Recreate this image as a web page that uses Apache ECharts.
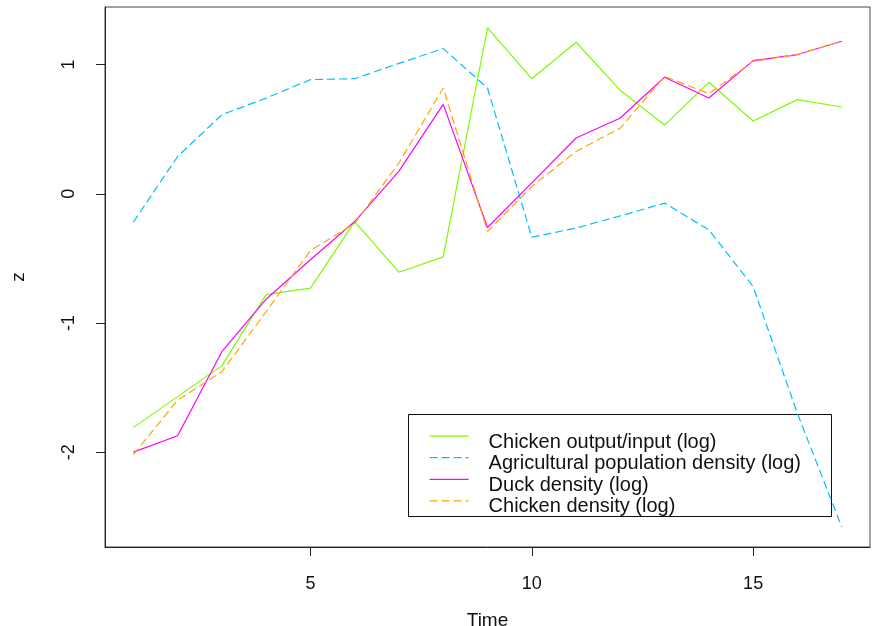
<!DOCTYPE html>
<html>
<head>
<meta charset="utf-8">
<script src="https://cdn.jsdelivr.net/npm/echarts@6/dist/echarts.min.js"></script>
<style>html,body{margin:0;padding:0;background:#fff}#c{width:879px;height:626px}</style>
</head>
<body>
<div id="c"></div>
<script>
const time = [1,2,3,4,5,6,7,8,9,10,11,12,13,14,15,16,17];
const chickenOutputInput = [-1.81,-1.57,-1.33,-0.78,-0.73,-0.215,-0.607,-0.488,1.285,0.891,1.173,0.80,0.532,0.863,0.563,0.729,0.672];
const agriPopDensity = [-0.22,0.289,0.612,0.741,0.884,0.891,1.01,1.124,0.819,-0.336,-0.265,-0.171,-0.072,-0.279,-0.718,-1.70,-2.578];
const duckDensity = [-2.0,-1.873,-1.222,-0.816,-0.51,-0.215,0.175,0.692,-0.261,0.084,0.432,0.587,0.902,0.742,1.031,1.078,1.181];
const chickenDensity = [-2.02,-1.597,-1.377,-0.912,-0.44,-0.23,0.24,0.819,-0.292,0.057,0.328,0.509,0.909,0.775,1.026,1.078,1.181];
const seriesNames = ['Chicken output/input (log)','Agricultural population density (log)','Duck density (log)','Chicken density (log)'];
const xTicks = [5,10,15];
const yTicks = [-2,-1,0,1];

const pair = arr => arr.map((v,i)=>[time[i], v]);
const FONT = '"Liberation Sans", Arial, sans-serif';
const chart = echarts.init(document.getElementById('c'), null, {renderer:'canvas'});
const mk = (name, data, color, dashed) => ({
  name, type:'line', data: pair(data), showSymbol:false, symbol:'none',
  lineStyle:{color, width:1.2, type: dashed ? [8,4] : 'solid'},
  itemStyle:{color}, silent:true
});
chart.setOption({
  animation:false,
  backgroundColor:'#fff',
  grid:{left:105, right:9, top:7, bottom:79, containLabel:false, outerBoundsMode:'none',
    show:true, borderColor:'#444', borderWidth:1, backgroundColor:'transparent'},
  xAxis:{type:'value', min:0.36, max:17.64, splitLine:{show:false},
    axisLine:{show:true, onZero:false, lineStyle:{color:'#222'}},
    axisTick:{show:true, length:9, customValues:xTicks, lineStyle:{color:'#222'}},
    axisLabel:{customValues:xTicks, margin:28, fontSize:18, color:'#111', fontFamily:FONT},
    name:'Time', nameLocation:'middle', nameGap:64, nameTextStyle:{fontSize:19, color:'#111', fontFamily:FONT}},
  yAxis:{type:'value', min:-2.734, max:1.446, splitLine:{show:false},
    axisLine:{show:true, onZero:false, lineStyle:{color:'#222'}},
    axisTick:{show:true, length:9, customValues:yTicks, lineStyle:{color:'#222'}},
    axisLabel:{customValues:yTicks, rotate:90, margin:27, fontSize:18, color:'#111', fontFamily:FONT},
    name:'z', nameLocation:'middle', nameGap:77, nameRotate:90, nameTextStyle:{fontSize:19, color:'#111', fontFamily:FONT}},
  legend:{orient:'vertical', left:429, top:430.5, padding:0, itemWidth:39, itemHeight:14, itemGap:0,
    data: seriesNames, selectedMode:false,
    itemStyle:{opacity:0, borderWidth:0},
    lineStyle:{width:1.2},
    formatter: name => '{t|' + name + '}',
    textStyle:{fontSize:20, color:'#111', fontFamily:FONT, padding:[12,0,0,15],
      rich:{t:{fontSize:20, color:'#111', fontFamily:FONT, lineHeight:8.7}}}},
  graphic:[{type:'rect', shape:{x:408.5, y:414.5, width:423, height:102}, style:{fill:'none', stroke:'#111', lineWidth:1}, z:-1}],
  series:[
    mk(seriesNames[0], chickenOutputInput, '#7CFC00', false),
    mk(seriesNames[1], agriPopDensity, '#00BFFF', true),
    mk(seriesNames[2], duckDensity, '#FF00FF', false),
    mk(seriesNames[3], chickenDensity, '#FFA500', true)
  ]
});
</script>
</body>
</html>
